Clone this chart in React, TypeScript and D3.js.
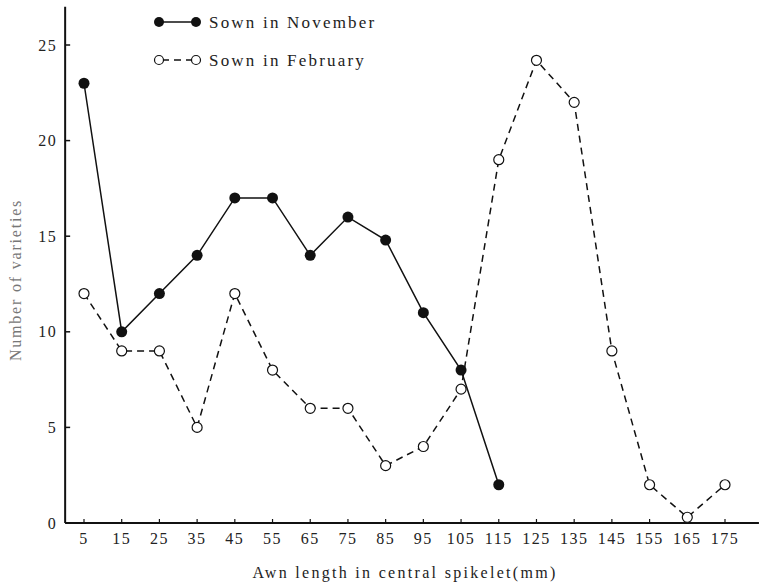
import * as d3 from 'd3';

// awn length classes (mm)
const lengths = [5, 15, 25, 35, 45, 55, 65, 75, 85, 95, 105, 115, 125, 135, 145, 155, 165, 175];
const novemberLengths = [5, 15, 25, 35, 45, 55, 65, 75, 85, 95, 105, 115];
const novemberCounts = [23, 10, 12, 14, 17, 17, 14, 16, 14.8, 11, 8, 2];
const februaryCounts = [12, 9, 9, 5, 12, 8, 6, 6, 3, 4, 7, 19, 24.2, 22, 9, 2, 0.3, 2];
const yTicks = [0, 5, 10, 15, 20, 25];

const WIDTH = 759;
const HEIGHT = 585;
const FONT = '"Liberation Serif", "DejaVu Serif", serif';

export default function App() {
  const x = d3.scaleLinear().domain([5, 175]).range([84, 725]);
  const y = d3.scaleLinear().domain([0, 25]).range([523, 45]);

  const nov = novemberLengths.map((l, i) => ({ l, v: novemberCounts[i] }));
  const feb = lengths.map((l, i) => ({ l, v: februaryCounts[i] }));

  const line = d3
    .line<{ l: number; v: number }>()
    .x((d) => x(d.l))
    .y((d) => y(d.v));

  const x0 = x(0);
  const y0 = y(0);

  return (
    <svg
      width={WIDTH}
      height={HEIGHT}
      style={{ position: 'absolute', left: 0, top: 0, background: '#fff' }}
      fontFamily={FONT}
    >
      {/* axes */}
      <line x1={x0} x2={x0} y1={y(27)} y2={y0} stroke="#111" strokeWidth={2} />
      <line x1={x0} x2={x(184)} y1={y0} y2={y0} stroke="#111" strokeWidth={2} />

      {yTicks.map((t) => (
        <g key={t}>
          <line x1={x0} x2={x0 + 5} y1={y(t)} y2={y(t)} stroke="#111" strokeWidth={1.5} />
          <text
            x={x0 - 8}
            y={y(t)}
            dy="0.35em"
            textAnchor="end"
            fontSize={16}
            letterSpacing={1.5}
            fill="#222"
          >
            {t}
          </text>
        </g>
      ))}

      {lengths.map((t) => (
        <g key={t}>
          <line x1={x(t)} x2={x(t)} y1={y0} y2={y0 - 4} stroke="#111" strokeWidth={1.2} />
          <text
            x={x(t)}
            y={y0 + 21}
            textAnchor="middle"
            fontSize={16}
            letterSpacing={1.5}
            fill="#222"
          >
            {t}
          </text>
        </g>
      ))}

      <text
        x={405}
        y={578}
        textAnchor="middle"
        fontSize={16}
        letterSpacing={2.3}
        fill="#222"
      >
        Awn length in central spikelet(mm)
      </text>
      <text
        transform="translate(21,280) rotate(-90)"
        textAnchor="middle"
        fontSize={16}
        letterSpacing={1.8}
        fill="#777"
      >
        Number of varieties
      </text>

      {/* series */}
      <path d={line(feb) || ''} fill="none" stroke="#111" strokeWidth={1.5} strokeDasharray="7,5" />
      <path d={line(nov) || ''} fill="none" stroke="#111" strokeWidth={1.5} />

      {feb.map((d) => (
        <circle key={'f' + d.l} cx={x(d.l)} cy={y(d.v)} r={5} fill="#fff" stroke="#111" strokeWidth={1.2} />
      ))}
      {nov.map((d) => (
        <circle key={'n' + d.l} cx={x(d.l)} cy={y(d.v)} r={5.5} fill="#111" />
      ))}

      {/* legend */}
      <g>
        <line x1={159} x2={196} y1={22} y2={22} stroke="#111" strokeWidth={1.5} />
        <circle cx={159} cy={22} r={5} fill="#111" />
        <circle cx={196} cy={22} r={5} fill="#111" />
        <text x={209} y={22} dy="0.35em" fontSize={17} letterSpacing={2.2} fill="#222">
          Sown in November
        </text>
        <line x1={159} x2={196} y1={60} y2={60} stroke="#111" strokeWidth={1.5} strokeDasharray="7,5" strokeDashoffset={-3} />
        <circle cx={159} cy={60} r={4.5} fill="#fff" stroke="#111" strokeWidth={1.2} />
        <circle cx={196} cy={60} r={4.5} fill="#fff" stroke="#111" strokeWidth={1.2} />
        <text x={209} y={60} dy="0.35em" fontSize={17} letterSpacing={2.2} fill="#222">
          Sown in February
        </text>
      </g>
    </svg>
  );
}
